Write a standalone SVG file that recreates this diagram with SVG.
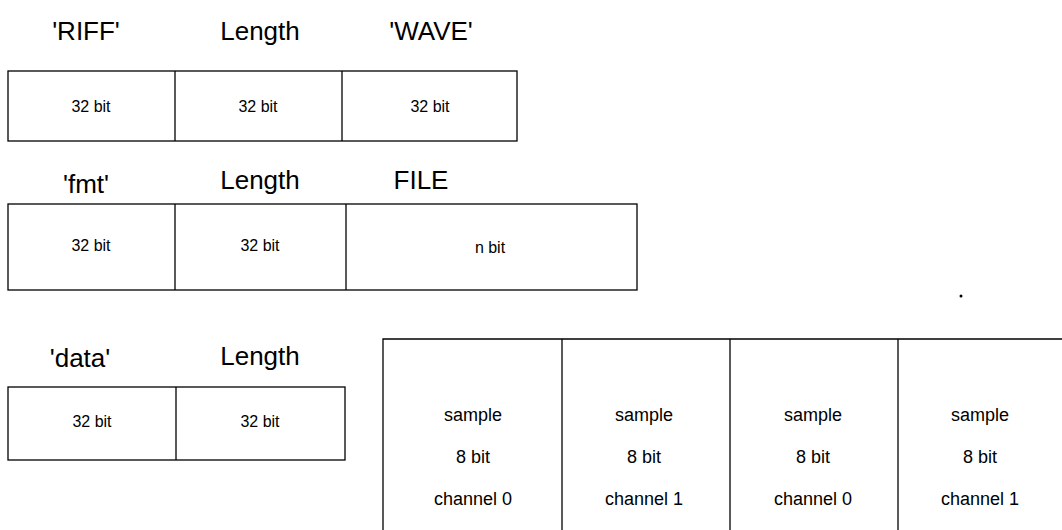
<svg xmlns="http://www.w3.org/2000/svg" width="1062" height="530" viewBox="0 0 1062 530">
<style>
.box{fill:none;stroke:#000;stroke-width:1.3}
.hd{font-family:"Liberation Sans",Arial,sans-serif;font-size:26px;fill:#000;text-anchor:middle}
.t{font-family:"Liberation Sans",Arial,sans-serif;font-size:16px;fill:#000;text-anchor:middle}
.s{font-family:"Liberation Sans",Arial,sans-serif;font-size:18px;fill:#000;text-anchor:middle}
</style>
<rect width="1062" height="530" fill="#fff"/>
<g id="riff">
<text class="hd" x="86" y="40">'RIFF'</text>
<text class="hd" x="260" y="40">Length</text>
<text class="hd" x="431" y="40">'WAVE'</text>
<rect class="box" x="8" y="71" width="509" height="70"/>
<line class="box" x1="175" y1="71" x2="175" y2="141"/>
<line class="box" x1="342" y1="71" x2="342" y2="141"/>
<text class="t" x="91" y="112">32 bit</text>
<text class="t" x="258" y="112">32 bit</text>
<text class="t" x="430" y="112">32 bit</text>
</g>
<g id="fmt">
<text class="hd" x="86" y="193">'fmt'</text>
<text class="hd" x="260" y="189">Length</text>
<text class="hd" x="421" y="189">FILE</text>
<rect class="box" x="8" y="204" width="629" height="86"/>
<line class="box" x1="175" y1="204" x2="175" y2="290"/>
<line class="box" x1="346" y1="204" x2="346" y2="290"/>
<text class="t" x="91" y="251">32 bit</text>
<text class="t" x="260" y="251">32 bit</text>
<text class="t" x="490" y="253">n bit</text>
</g>
<circle cx="961" cy="296" r="1.5" fill="#000"/>
<g id="data">
<text class="hd" x="80" y="367">'data'</text>
<text class="hd" x="260" y="365">Length</text>
<rect class="box" x="8" y="387" width="337" height="73"/>
<line class="box" x1="176" y1="387" x2="176" y2="460"/>
<text class="t" x="92" y="427">32 bit</text>
<text class="t" x="260" y="427">32 bit</text>
</g>
<g id="samples">
<path class="box" d="M383 531 V339 H1062"/>
<line class="box" x1="562" y1="339" x2="562" y2="531"/>
<line class="box" x1="730" y1="339" x2="730" y2="531"/>
<line class="box" x1="898" y1="339" x2="898" y2="531"/>
<text class="s" x="473" y="421">sample</text>
<text class="s" x="473" y="463">8 bit</text>
<text class="s" x="473" y="505">channel 0</text>
<text class="s" x="644" y="421">sample</text>
<text class="s" x="644" y="463">8 bit</text>
<text class="s" x="644" y="505">channel 1</text>
<text class="s" x="813" y="421">sample</text>
<text class="s" x="813" y="463">8 bit</text>
<text class="s" x="813" y="505">channel 0</text>
<text class="s" x="980" y="421">sample</text>
<text class="s" x="980" y="463">8 bit</text>
<text class="s" x="980" y="505">channel 1</text>
</g>
</svg>
